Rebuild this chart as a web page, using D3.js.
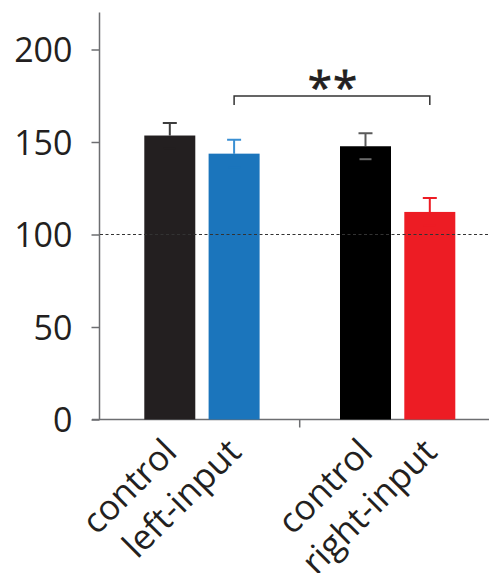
<!DOCTYPE html>
<html>
<head>
<meta charset="utf-8">
<script src="https://cdn.jsdelivr.net/npm/d3@7"></script>
<style>
  body { margin: 0; background: #fff; }
  text { font-family: "Open Sans", sans-serif; fill: #231f20; }
</style>
</head>
<body>
<div id="chart"></div>
<script>
// data
var groups = ["left", "right"];
var conditions = ["control", "input"];
var labels = [["control", "left-input"], ["control", "right-input"]];
var means = [[153.5, 143.7], [147.7, 112.2]];
var sem = [[6.8, 7.5], [7.0, 7.5]];
var barColors = [["#231f20", "#1b75bc"], ["#000000", "#ed1c24"]];
var errColors = [["#3d3d3d", "#3a8fd3"], ["#5a5a5a", "#ed1c24"]];
var lowCapColors = [["#231f20", "#1b75bc"], ["#6a6a6a", "#ed1c24"]];
var yTicks = [0, 50, 100, 150, 200];
var baseline = 100;
var sigLabel = "**";

var width = 489, height = 573;

var svg = d3.select("#chart")
  .append("svg")
  .attr("width", width)
  .attr("height", height);

var y = d3.scaleLinear().domain([0, 220]).range([419.5, 12.5]);

var xGroup = d3.scaleBand().domain(groups).range([104, 495.4]).paddingInner(0);
var xBar = d3.scaleBand().domain(conditions)
  .range([40.3, 155.6]).paddingInner(0.207).paddingOuter(0);

// y axis
var yAxis = d3.axisLeft(y).tickValues(yTicks).tickSize(8).tickPadding(19);
var gy = svg.append("g").attr("transform", "translate(99.5,0)").call(yAxis);
gy.select(".domain").attr("d", "M0," + y(220) + "V" + y(0))
  .attr("stroke", "#6d6e71").attr("stroke-width", 1.5);
gy.selectAll(".tick line").attr("stroke", "#6d6e71").attr("stroke-width", 1.5);
gy.selectAll(".tick text")
  .style("font-size", "34px")
  .attr("fill", "#231f20")
  .attr("dy", "0.36em");

// x axis line and group divider tick
svg.append("line")
  .attr("x1", 92).attr("x2", width)
  .attr("y1", y(0)).attr("y2", y(0))
  .attr("stroke", "#6d6e71").attr("stroke-width", 1.5);
svg.append("line")
  .attr("x1", xGroup("right")).attr("x2", xGroup("right"))
  .attr("y1", y(0)).attr("y2", y(0) + 8)
  .attr("stroke", "#6d6e71").attr("stroke-width", 1.5);

// bars
var rows = [];
groups.forEach(function (g, gi) {
  conditions.forEach(function (c, ci) {
    rows.push({
      g: g, c: c, gi: gi, ci: ci,
      mean: means[gi][ci], sem: sem[gi][ci],
      color: barColors[gi][ci], err: errColors[gi][ci], low: lowCapColors[gi][ci],
      label: labels[gi][ci]
    });
  });
});

function cx(d) { return xGroup(d.g) + xBar(d.c) + xBar.bandwidth() / 2; }

// error bars (upper)
svg.selectAll(".err").data(rows).enter().append("path")
  .attr("class", "err")
  .attr("fill", "none")
  .attr("stroke", function (d) { return d.err; })
  .attr("stroke-width", 2)
  .attr("d", function (d) {
    var x = cx(d), t = y(d.mean + d.sem);
    return "M" + x + "," + y(d.mean) + "V" + t + "M" + (x - 7) + "," + t + "H" + (x + 7);
  });

svg.selectAll(".bar").data(rows).enter().append("rect")
  .attr("class", "bar")
  .attr("x", function (d) { return xGroup(d.g) + xBar(d.c); })
  .attr("width", xBar.bandwidth())
  .attr("y", function (d) { return y(d.mean); })
  .attr("height", function (d) { return y(0) - y(d.mean); })
  .attr("fill", function (d) { return d.color; });

// lower caps (show through on the black bar)
svg.selectAll(".lowcap").data(rows).enter().append("line")
  .attr("class", "lowcap")
  .attr("x1", function (d) { return cx(d) - 6; })
  .attr("x2", function (d) { return cx(d) + 6; })
  .attr("y1", function (d) { return y(d.mean - d.sem); })
  .attr("y2", function (d) { return y(d.mean - d.sem); })
  .attr("stroke", function (d) { return d.low; })
  .attr("stroke-width", 2);

// reference line at 100%
svg.append("line")
  .attr("x1", 100).attr("x2", width)
  .attr("y1", y(baseline)).attr("y2", y(baseline))
  .attr("stroke", "#333").attr("stroke-width", 1.2)
  .attr("stroke-dasharray", "3,2.5");

// significance bracket between the two input bars
var bx1 = cx(rows[1]), bx2 = cx(rows[3]), by = 96;
svg.append("path")
  .attr("fill", "none")
  .attr("stroke", "#333")
  .attr("stroke-width", 1.5)
  .attr("d", "M" + bx1 + "," + (by + 9) + "V" + by + "H" + bx2 + "V" + (by + 9));
svg.append("text")
  .attr("x", (bx1 + bx2) / 2 + 1)
  .attr("y", by + 7)
  .attr("text-anchor", "middle")
  .style("font-size", "44px")
  .style("letter-spacing", "1px")
  .attr("stroke", "#231f20")
  .attr("stroke-width", 0.8)
  .text(sigLabel);

// rotated category labels
svg.selectAll(".xlab").data(rows).enter().append("text")
  .attr("class", "xlab")
  .attr("text-anchor", "end")
  .style("font-size", "35px")
  .attr("transform", function (d) {
    return "translate(" + (cx(d) + 9) + ",454) rotate(-45)";
  })
  .text(function (d) { return d.label; });
</script>
</body>
</html>
